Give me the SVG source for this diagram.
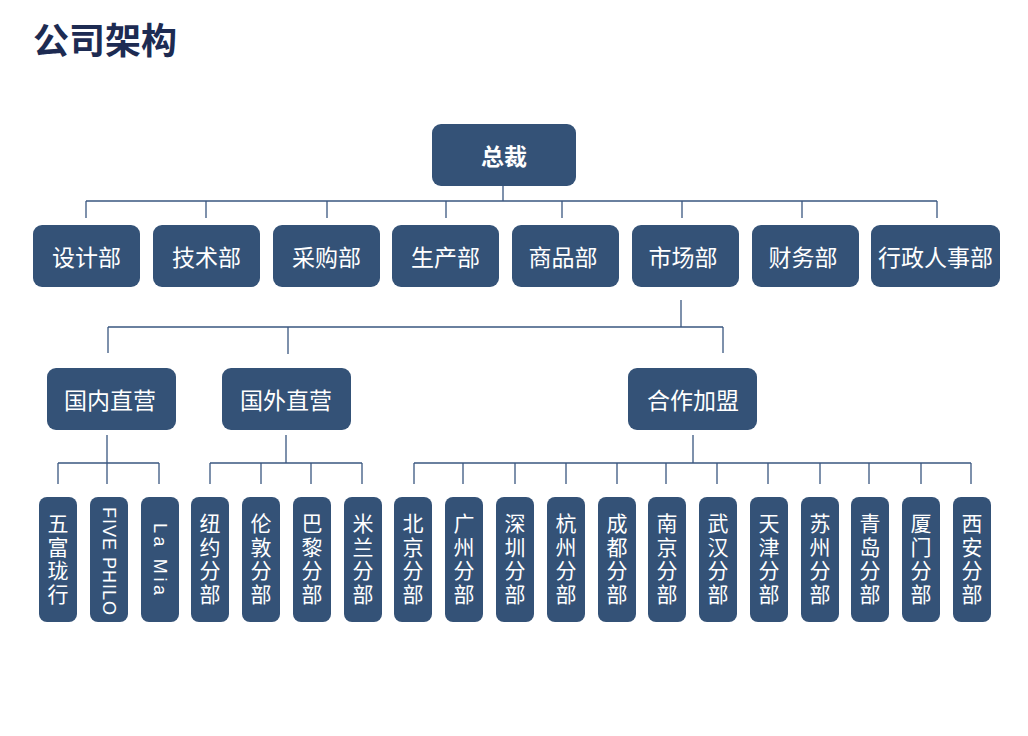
<svg xmlns="http://www.w3.org/2000/svg" width="1028" height="736" viewBox="0 0 1028 736">
<style>
.n{fill:#345277}
.t{font-family:"Noto Sans CJK SC","Noto Sans",sans-serif;fill:#ffffff;text-anchor:middle;dominant-baseline:central}
.l1{font-size:23px}
.v{font-family:"Noto Sans CJK SC",sans-serif;fill:#ffffff;font-size:21px;writing-mode:vertical-rl;text-anchor:middle;letter-spacing:2.6px}
.lat{font-family:"Liberation Sans","DejaVu Sans",sans-serif;font-size:18px}
.c path{stroke:#3a5780;stroke-width:1.3;fill:none}
</style>
<rect width="1028" height="736" fill="#ffffff"/>
<text x="33" y="54" style="font-family:'Noto Sans CJK SC',sans-serif;font-size:36px;font-weight:bold;fill:#1d2b52">公司架构</text>

<g id="connectors" class="c">
<path d="M503 186V201M86 201H937M86 201V218M206 201V218M327 201V218M446 201V218M562 201V218M682 201V218M802 201V218M937 201V218"/>
<path d="M681 300V327M108 327H723M108 327V353M288 327V354M723 327V353"/>
<path d="M107 435V463M58 463H159M58 463V484M107 463V484M159 463V484"/>
<path d="M286 435V463M210 463H362M210 463V484M261 463V484M311 463V484M362 463V484"/>
<path d="M693 435V463M414 463H971M414 463V484M463 463V484M515 463V484M566 463V484M617 463V484M666 463V484M717 463V484M768 463V484M820 463V484M869 463V484M921 463V484M971 463V484"/>
</g>

<g id="ceo"><rect class="n" x="432" y="124" width="144" height="62" rx="9"/><text class="t l1" x="504" y="155" font-weight="bold" font-size="22">总裁</text></g>

<g id="d1"><rect class="n" x="33" y="225" width="107" height="62" rx="9"/><text class="t l1" x="86.5" y="256">设计部</text></g>
<g id="d2"><rect class="n" x="153" y="225" width="107" height="62" rx="9"/><text class="t l1" x="206.5" y="256">技术部</text></g>
<g id="d3"><rect class="n" x="273" y="225" width="107" height="62" rx="9"/><text class="t l1" x="326.5" y="256">采购部</text></g>
<g id="d4"><rect class="n" x="392" y="225" width="107" height="62" rx="9"/><text class="t l1" x="445.5" y="256">生产部</text></g>
<g id="d5"><rect class="n" x="512" y="225" width="107" height="62" rx="9"/><text class="t l1" x="563" y="256">商品部</text></g>
<g id="d6"><rect class="n" x="632" y="225" width="107" height="62" rx="9"/><text class="t l1" x="683" y="256">市场部</text></g>
<g id="d7"><rect class="n" x="752" y="225" width="107" height="62" rx="9"/><text class="t l1" x="803" y="256">财务部</text></g>
<g id="d8"><rect class="n" x="871" y="225" width="129" height="62" rx="9"/><text class="t l1" x="935.5" y="256">行政人事部</text></g>

<g id="m1"><rect class="n" x="47" y="368" width="129" height="62" rx="9"/><text class="t l1" x="110" y="399">国内直营</text></g>
<g id="m2"><rect class="n" x="222" y="368" width="129" height="62" rx="9"/><text class="t l1" x="286" y="399">国外直营</text></g>
<g id="m3"><rect class="n" x="628" y="368" width="129" height="62" rx="9"/><text class="t l1" x="693" y="399">合作加盟</text></g>

<g id="b1"><rect class="n" x="39" y="497" width="38" height="125" rx="8"/><text class="v" x="58" y="560">五富珑行</text></g>
<g id="b2"><rect class="n" x="90" y="497" width="38" height="125" rx="8"/><text class="t lat" transform="translate(109,561) rotate(90)" x="0" y="0" textLength="108" lengthAdjust="spacing">FIVE PHILO</text></g>
<g id="b3"><rect class="n" x="141" y="497" width="38" height="125" rx="8"/><text class="t lat" transform="translate(160,559) rotate(90)" x="0" y="0" textLength="72" lengthAdjust="spacing">La Mia</text></g>
<g id="b4"><rect class="n" x="191" y="497" width="38" height="125" rx="8"/><text class="v" x="210" y="560">纽约分部</text></g>
<g id="b5"><rect class="n" x="242" y="497" width="38" height="125" rx="8"/><text class="v" x="261" y="560">伦敦分部</text></g>
<g id="b6"><rect class="n" x="293" y="497" width="38" height="125" rx="8"/><text class="v" x="312" y="560">巴黎分部</text></g>
<g id="b7"><rect class="n" x="344" y="497" width="38" height="125" rx="8"/><text class="v" x="363" y="560">米兰分部</text></g>
<g id="b8"><rect class="n" x="394" y="497" width="38" height="125" rx="8"/><text class="v" x="413" y="560">北京分部</text></g>
<g id="b9"><rect class="n" x="445" y="497" width="38" height="125" rx="8"/><text class="v" x="464" y="560">广州分部</text></g>
<g id="b10"><rect class="n" x="496" y="497" width="38" height="125" rx="8"/><text class="v" x="515" y="560">深圳分部</text></g>
<g id="b11"><rect class="n" x="547" y="497" width="38" height="125" rx="8"/><text class="v" x="566" y="560">杭州分部</text></g>
<g id="b12"><rect class="n" x="598" y="497" width="38" height="125" rx="8"/><text class="v" x="617" y="560">成都分部</text></g>
<g id="b13"><rect class="n" x="648" y="497" width="38" height="125" rx="8"/><text class="v" x="667" y="560">南京分部</text></g>
<g id="b14"><rect class="n" x="699" y="497" width="38" height="125" rx="8"/><text class="v" x="718" y="560">武汉分部</text></g>
<g id="b15"><rect class="n" x="750" y="497" width="38" height="125" rx="8"/><text class="v" x="769" y="560">天津分部</text></g>
<g id="b16"><rect class="n" x="801" y="497" width="38" height="125" rx="8"/><text class="v" x="820" y="560">苏州分部</text></g>
<g id="b17"><rect class="n" x="851" y="497" width="38" height="125" rx="8"/><text class="v" x="870" y="560">青岛分部</text></g>
<g id="b18"><rect class="n" x="902" y="497" width="38" height="125" rx="8"/><text class="v" x="921" y="560">厦门分部</text></g>
<g id="b19"><rect class="n" x="953" y="497" width="38" height="125" rx="8"/><text class="v" x="972" y="560">西安分部</text></g>
</svg>
